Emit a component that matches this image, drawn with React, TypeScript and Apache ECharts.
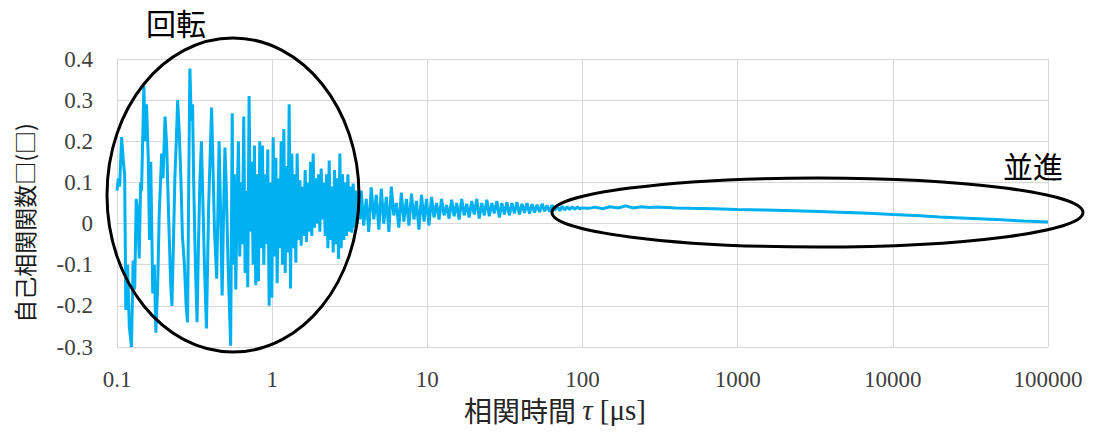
import React, { useEffect, useRef } from "react";
import * as echarts from "echarts";

// Rotational region (sparse oscillations), tau in μs
const tauRot = [
  0.100, 0.102, 0.104, 0.107, 0.110, 0.112, 0.114, 0.117, 0.120, 0.124,
  0.127, 0.130, 0.133, 0.136, 0.139, 0.142, 0.144, 0.149, 0.152, 0.155,
  0.159, 0.162, 0.165, 0.170, 0.174, 0.178, 0.183, 0.187, 0.194, 0.198,
  0.204, 0.209, 0.215, 0.222, 0.226, 0.231, 0.236, 0.241, 0.246, 0.252,
  0.258, 0.264, 0.272, 0.279, 0.285, 0.290, 0.295, 0.301, 0.307, 0.312,
  0.320, 0.328, 0.335, 0.342, 0.350, 0.358, 0.366, 0.377, 0.390, 0.407,
  0.415, 0.425, 0.439, 0.455, 0.465, 0.476, 0.486, 0.496, 0.505, 0.520,
  0.540, 0.553,
];
const corrRot = [
  0.08, 0.11, 0.09, 0.21, 0.15, 0.12, -0.21, -0.10, -0.25, -0.30,
  -0.09, -0.16, 0.06, 0.03, -0.085, 0.10, 0.08, 0.335, 0.20, 0.29,
  0.16, -0.04, 0.15, -0.17, -0.10, -0.265, -0.15, 0.02, 0.17, 0.11,
  0.26, 0.19, 0.02, -0.15, -0.20, -0.05, 0.11, 0.20, 0.30, 0.22,
  0.11, -0.03, -0.10, -0.20, -0.24, 0.10, 0.377, 0.25, 0.29, 0.10,
  -0.10, -0.24, -0.05, 0.10, 0.20, 0.05, -0.10, -0.255, 0.05, 0.282,
  0.15, -0.02, -0.134, 0.20, 0.03, -0.175, 0.02, 0.185, 0.10, -0.10,
  -0.297, 0.268,
];

// Dense rotational region
const tauDense = [
  0.56, 0.571, 0.583, 0.594, 0.606, 0.618, 0.631, 0.643, 0.656, 0.669,
  0.683, 0.696, 0.710, 0.725, 0.739, 0.754, 0.769, 0.784, 0.800, 0.816,
  0.832, 0.849, 0.866, 0.883, 0.901, 0.919, 0.937, 0.956, 0.975, 0.995,
  1.015, 1.035, 1.056, 1.077, 1.098, 1.120, 1.143, 1.165, 1.189, 1.213,
  1.237, 1.262, 1.287, 1.313, 1.339, 1.366, 1.393, 1.421, 1.449, 1.478,
  1.508, 1.538, 1.569, 1.600, 1.632, 1.665, 1.698, 1.732, 1.767, 1.802,
  1.838, 1.875, 1.912, 1.951, 1.990, 2.029, 2.070, 2.111, 2.154, 2.197,
  2.241, 2.286, 2.331, 2.378, 2.425, 2.474, 2.523, 2.574, 2.625, 2.678,
  2.731, 2.786, 2.842, 2.899, 2.957, 3.016, 3.076, 3.138, 3.200, 3.264,
  3.330, 3.396, 3.464, 3.534, 3.604, 3.676,
];
const corrDense = [
  -0.10, 0.12, -0.16, 0.05, 0.20, -0.08, 0.10, -0.05, 0.26, -0.12,
  0.08, -0.155, 0.31, -0.02, 0.15, -0.10, 0.19, -0.15, 0.12, -0.14,
  0.20, -0.06, 0.19, -0.10, 0.12, -0.05, 0.18, -0.20, 0.10, -0.18,
  0.21, -0.08, 0.16, -0.145, 0.11, -0.06, 0.20, -0.10, 0.23, -0.12,
  0.14, -0.07, 0.29, -0.158, 0.17, -0.06, 0.12, -0.095, 0.17, -0.04,
  0.105, -0.054, 0.09, -0.03, 0.13, -0.045, 0.10, -0.02, 0.15, -0.03,
  0.17, -0.01, 0.11, 0.0, 0.12, -0.02, 0.134, 0.01, 0.10, -0.03,
  0.12, -0.06, 0.153, -0.04, 0.09, -0.07, 0.13, -0.05, 0.11, -0.086,
  0.17, -0.06, 0.12, -0.04, 0.10, -0.03, 0.12, -0.02, 0.09, -0.022,
  0.097, -0.01, 0.08, 0.0, 0.075, 0.01,
];

// Transition region
const tauMid = [
  3.75, 3.89, 4.04, 4.19, 4.35, 4.52, 4.69, 4.87, 5.05, 5.24,
  5.44, 5.65, 5.86, 6.08, 6.31, 6.55, 6.8, 7.06, 7.33, 7.61,
  7.9, 8.2, 8.51, 8.83, 9.17, 9.52, 9.88, 10.25, 10.64, 11.04,
  11.46, 11.9, 12.35, 12.82, 13.31, 13.81, 14.34, 14.88, 15.45, 16.03,
  16.64, 17.28, 17.93, 18.61, 19.32, 20.06, 20.82, 21.61, 22.43, 23.28,
  24.17, 25.08, 26.04, 27.03, 28.05, 29.12, 30.22, 31.37, 32.56, 33.8,
  35.09, 36.42, 37.8, 39.24, 40.73, 42.28, 43.89, 45.55, 47.29, 49.08,
  50.95, 52.89, 54.9, 56.98, 59.15, 61.4, 63.73, 66.15, 68.66, 71.27,
  73.98, 76.79, 79.71, 82.74, 85.88, 89.14, 92.53, 96.05, 99.7,
];
const corrMid = [
  0.08, -0.005, 0.06, -0.02, 0.088, 0.01, 0.07, -0.015, 0.085, 0.0,
  0.065, -0.02, 0.09, 0.02, 0.05, -0.01, 0.075, 0.005, 0.06, -0.005,
  0.073, 0.01, 0.055, -0.015, 0.07, 0.005, 0.06, -0.005, 0.065, 0.015,
  0.05, 0.01, 0.06, 0.02, 0.045, 0.012, 0.058, 0.018, 0.05, 0.01,
  0.06, 0.02, 0.048, 0.015, 0.055, 0.022, 0.06, 0.012, 0.05, 0.02,
  0.058, 0.018, 0.05, 0.025, 0.055, 0.015, 0.05, 0.022, 0.052, 0.02,
  0.05, 0.025, 0.052, 0.022, 0.048, 0.026, 0.05, 0.024, 0.047, 0.027,
  0.046, 0.028, 0.048, 0.03, 0.044, 0.029, 0.045, 0.032, 0.043, 0.031,
  0.042, 0.033, 0.041, 0.034, 0.041, 0.035, 0.04, 0.036, 0.038,
];

// Translational region
const tauTrans = [
  100, 110, 120, 135, 150, 170, 190, 210, 240, 270,
  300, 400, 500, 700, 1000, 1500, 2000, 3000, 5000, 7000,
  10000, 15000, 20000, 30000, 50000, 70000, 100000,
];
const corrTrans = [
  0.038, 0.037, 0.040, 0.036, 0.041, 0.038, 0.043, 0.038, 0.041, 0.039,
  0.040, 0.038, 0.037, 0.036, 0.034, 0.033, 0.032, 0.030, 0.027, 0.025,
  0.022, 0.019, 0.016, 0.013, 0.009, 0.006, 0.004,
];

const xTickLabels = ["0.1", "1", "10", "100", "1000", "10000", "100000"];
const yTickLabels = ["-0.3", "-0.2", "-0.1", "0", "0.1", "0.2", "0.3", "0.4"];

const SERIF = "Liberation Serif";
const CJK = "Noto Sans CJK JP";

const tickRich = {
  t: { fontFamily: SERIF, fontSize: 23, color: "#404040" },
};

export default function App() {
  const ref = useRef<HTMLDivElement>(null);

  useEffect(() => {
    if (!ref.current) return;
    const chart = echarts.init(ref.current, undefined, { renderer: "svg" });
    const tau = [...tauRot, ...tauDense, ...tauMid, ...tauTrans];
    const corr = [...corrRot, ...corrDense, ...corrMid, ...corrTrans];
    const data = tau.map((t, i) => [t, corr[i]]);

    chart.setOption({
      animation: false,
      backgroundColor: "#ffffff",
      grid: { left: 117, right: 51, top: 59, bottom: 91, containLabel: false },
      xAxis: {
        type: "log",
        logBase: 10,
        min: 0.1,
        max: 100000,
        axisLine: { show: true, lineStyle: { color: "#d9d9d9", width: 1 } },
        axisTick: { show: false },
        splitLine: { show: true, lineStyle: { color: "#d9d9d9", width: 1 } },
        axisLabel: {
          margin: 21,
          fontFamily: SERIF,
          fontSize: 23,
          color: "#404040",
          rich: tickRich,
          formatter: (v: number) => {
            const idx = Math.round(Math.log10(v)) + 1;
            return `{t|${xTickLabels[idx] ?? ""}}`;
          },
        },
        name: "{a|相関時間 }{b|τ}{c| [μs]}",
        nameLocation: "middle",
        nameGap: 47,
        nameTextStyle: {
          padding: [0, 55, 0, 0],
          rich: {
            a: { fontFamily: CJK, fontSize: 28, color: "#262626" },
            b: { fontFamily: SERIF, fontStyle: "italic", fontSize: 29, color: "#262626" },
            c: { fontFamily: SERIF, fontSize: 29, color: "#262626" },
          },
        },
      },
      yAxis: {
        type: "value",
        min: -0.3,
        max: 0.4,
        interval: 0.1,
        axisLine: { show: false },
        axisTick: { show: false },
        splitLine: { show: true, lineStyle: { color: "#d9d9d9", width: 1 } },
        axisLabel: {
          margin: 24,
          fontFamily: SERIF,
          fontSize: 23,
          color: "#404040",
          rich: tickRich,
          formatter: (v: number) => {
            const idx = Math.round(v * 10) + 3;
            return `{t|${yTickLabels[idx] ?? ""}}`;
          },
        },
        name: "自己相関関数□(□)",
        nameLocation: "middle",
        nameRotate: 90,
        nameGap: 82,
        nameTextStyle: {
          fontFamily: CJK,
          fontSize: 23,
          color: "#1a1a1a",
          padding: [0, 40, 0, 0],
        },
      },
      series: [
        {
          type: "line",
          data,
          showSymbol: false,
          symbol: "none",
          lineStyle: { color: "#00B0F0", width: 3 },
          z: 2,
        },
      ],
      graphic: [
        {
          type: "ellipse",
          z: 100,
          shape: { cx: 233, cy: 195, rx: 126, ry: 157 },
          style: { fill: "transparent", stroke: "#000000", lineWidth: 3 },
        },
        {
          type: "ellipse",
          z: 100,
          shape: { cx: 817.5, cy: 212.5, rx: 265.5, ry: 34.5 },
          style: { fill: "transparent", stroke: "#000000", lineWidth: 3 },
        },
        {
          type: "text",
          z: 100,
          x: 176,
          y: 22,
          style: {
            text: "回転",
            font: `30px ${CJK}`,
            fill: "#000000",
            textAlign: "center",
            textVerticalAlign: "middle",
          },
        },
        {
          type: "text",
          z: 100,
          x: 1033,
          y: 165,
          style: {
            text: "並進",
            font: `30px ${CJK}`,
            fill: "#000000",
            textAlign: "center",
            textVerticalAlign: "middle",
          },
        },
      ],
    });

    return () => {
      chart.dispose();
    };
  }, []);

  return (
    <div
      ref={ref}
      style={{
        position: "fixed",
        left: 0,
        top: 0,
        width: 1099,
        height: 438,
        background: "#ffffff",
      }}
    />
  );
}
